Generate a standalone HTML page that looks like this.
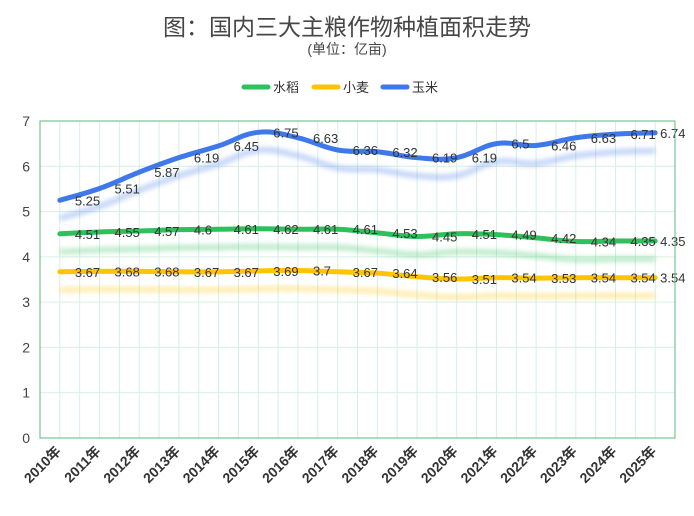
<!DOCTYPE html>
<html><head><meta charset="utf-8"><style>
body{margin:0;background:#fff;}
svg text{font-family:"Liberation Sans","Noto Sans CJK SC",sans-serif;}
</style></head><body>
<svg id="c" width="694" height="511">
<defs>
<filter id="blur" x="-10%" y="-50%" width="120%" height="200%"><feGaussianBlur stdDeviation="2.5"/></filter>
</defs>
<text x="347" y="35" text-anchor="middle" font-size="23" fill="#464646">图：国内三大主粮作物种植面积走势</text>
<text x="347" y="54" text-anchor="middle" font-size="14" fill="#464646">(单位：亿亩)</text>
<g id="legend"></g>
<g id="grid"></g>
<g id="series"></g>
<g id="axes"></g>
</svg>
<script>
const categories=['2010年','2011年','2012年','2013年','2014年','2015年','2016年','2017年','2018年','2019年','2020年','2021年','2022年','2023年','2024年','2025年'];
const rice=[4.51,4.55,4.57,4.6,4.61,4.62,4.61,4.61,4.53,4.45,4.51,4.49,4.42,4.34,4.35,4.35];
const wheat=[3.67,3.68,3.68,3.67,3.67,3.69,3.7,3.67,3.64,3.56,3.51,3.54,3.53,3.54,3.54,3.54];
const corn=[5.25,5.51,5.87,6.19,6.45,6.75,6.63,6.36,6.32,6.19,6.19,6.5,6.46,6.63,6.71,6.74];
const yTicks=[0,1,2,3,4,5,6,7];
const seriesNames=['水稻','小麦','玉米'];
const seriesColors=['#2fbf5b','#ffc400','#3f78ea'];
const L=40,R=675,T=121,B=438,yMax=7;
const NS='http://www.w3.org/2000/svg';
const step=(R-L)/categories.length;
function xs(i){return L+step*(i+0.5);}
function ys(v){return B-(v/yMax)*(B-T);}
function mk(tag,attrs,parent){const e=document.createElementNS(NS,tag);for(const k in attrs)e.setAttribute(k,attrs[k]);parent.appendChild(e);return e;}
const grid=document.getElementById('grid'),axes=document.getElementById('axes'),ser=document.getElementById('series'),leg=document.getElementById('legend');
for(let k=0;k<=categories.length*2;k++){const x=L+k*step/2;
 const l=mk('line',{x1:x,x2:x,y1:T,y2:B,stroke:'#d6efe3','stroke-width':1},grid);
 
 }
yTicks.forEach(v=>{const y=ys(v);
 const l=mk('line',{x1:L,x2:R,y1:y,y2:y,stroke:'#d6efe3','stroke-width':1},grid);
 
 
 const t=mk('text',{x:L-10,y:y+5,'text-anchor':'end','font-size':14,fill:'#444'},axes);t.textContent=v;
 
 });
const fr=mk('rect',{x:L,y:T,width:R-L,height:B-T,fill:'none',stroke:'#5cb87a','stroke-width':1},axes);


categories.forEach((c,i)=>{const x=xs(i)+2,y=B+14;
 const t=mk('text',{x:x,y:y,'text-anchor':'end','font-size':14,'font-weight':'bold',fill:'#333',transform:`rotate(-45 ${x} ${y})`},axes);t.textContent=c;
 
 });
function pathD(vals,off){const p=vals.map((v,i)=>[xs(i),ys(v)+off]);let d=`M${p[0][0]},${p[0][1]}`;
 for(let i=0;i<p.length-1;i++){const p0=p[i-1]||p[i],p1=p[i],p2=p[i+1],p3=p[i+2]||p2;const t=0.2;
  d+=` C${p1[0]+(p2[0]-p0[0])*t},${p1[1]+(p2[1]-p0[1])*t} ${p2[0]-(p3[0]-p1[0])*t},${p2[1]-(p3[1]-p1[1])*t} ${p2[0]},${p2[1]}`;}
 return d;}
[rice,wheat,corn].forEach((vals,si)=>{const col=seriesColors[si];
 const sh=mk('path',{d:pathD(vals,18),fill:'none',stroke:col,'stroke-width':6,opacity:0.3,filter:'url(#blur)'},ser);
 
 
 const ln=mk('path',{d:pathD(vals,0),fill:'none',stroke:col,'stroke-width':5,'stroke-linecap':'round'},ser);
 
 });
[rice,wheat,corn].forEach((vals,si)=>{vals.forEach((v,i)=>{
 const off=(i===vals.length-1)?5:15;
 const t=mk('text',{x:xs(i)+off,y:ys(v)+5,'font-size':13,fill:'#333'},ser);t.textContent=v;
 
 });});
const lx=[244,314,383];
seriesNames.forEach((n,i)=>{
 const g=mk('g',{},leg);
 
 
 mk('line',{x1:lx[i],x2:lx[i]+24,y1:87,y2:87,stroke:seriesColors[i],'stroke-width':5,'stroke-linecap':'round'},g);
 const t=mk('text',{x:lx[i]+29,y:92,'font-size':13,fill:'#333'},g);t.textContent=n;});
</script>
</body></html>
